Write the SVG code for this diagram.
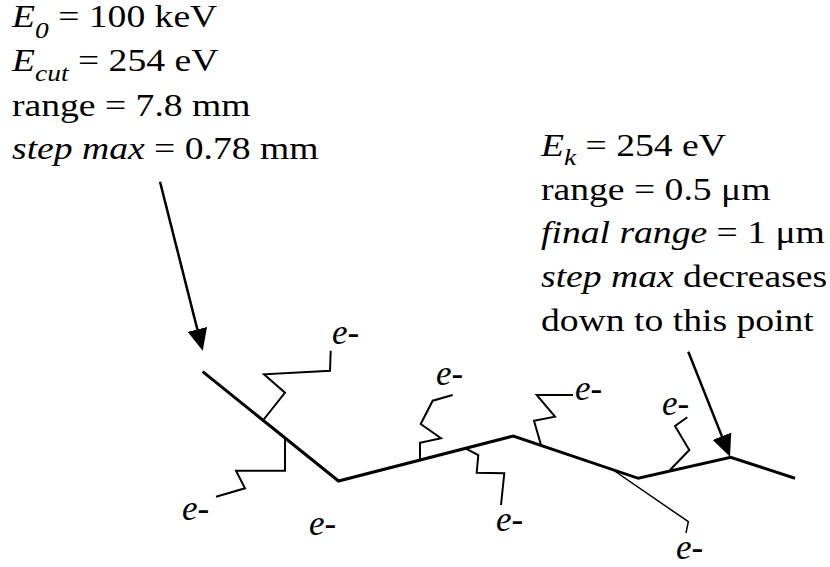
<svg xmlns="http://www.w3.org/2000/svg" width="830" height="567" viewBox="0 0 830 567">
<style>
.t{font-family:"Liberation Serif","Times New Roman",serif;font-size:31.5px;fill:#000}
.i{font-style:italic}
.sub{font-style:italic;font-size:23px}
.lab{font-family:"Liberation Serif","Times New Roman",serif;font-size:35px;fill:#000}
.track{fill:none;stroke:#000;stroke-width:3;stroke-linejoin:miter}
.sec{fill:none;stroke:#000;stroke-width:2;stroke-linejoin:miter}
.arr{fill:none;stroke:#000;stroke-width:2.5;marker-end:url(#ah)}
</style>
<defs>
<marker id="ah" markerUnits="userSpaceOnUse" viewBox="0 0 22 20" markerWidth="22" markerHeight="20" refX="10" refY="10" orient="auto">
<path d="M0,0 L22,10 L0,20 Z" fill="#000"/>
</marker>
</defs>
<rect width="830" height="567" fill="#fff"/>
<g id="text-initial" transform="translate(12,0) scale(1.195,1)">
<text class="t" x="0" y="27"><tspan class="i">E</tspan><tspan class="sub" dy="11">0</tspan><tspan dy="-11"> = 100 keV</tspan></text>
<text class="t" x="0" y="71.5"><tspan class="i">E</tspan><tspan class="sub" dy="10">cut</tspan><tspan dy="-10"> = 254 eV</tspan></text>
<text class="t" x="0" y="116">range = 7.8 mm</text>
<text class="t" x="0" y="159.5"><tspan class="i">step max</tspan> = 0.78 mm</text>
</g>
<g id="text-final" transform="translate(541,0) scale(1.195,1)">
<text class="t" x="0" y="156"><tspan class="i">E</tspan><tspan class="sub" dy="9">k</tspan><tspan dy="-9"> = 254 eV</tspan></text>
<text class="t" x="0" y="200">range = 0.5 μm</text>
<text class="t" x="0" y="243.5"><tspan class="i">final range</tspan> = 1 μm</text>
<text class="t" x="0" y="287.5"><tspan class="i">step max</tspan> decreases</text>
<text class="t" x="0" y="331.5">down to this point</text>
</g>
<g id="connectors">
<polyline id="primary-track" class="track" points="202.7,371.7 338.5,481 513.3,436 638.3,478.3 730.7,457.3 795,478.3"/>
<line class="arr" x1="160" y1="181.7" x2="199.8" y2="339.1"/>
<line class="arr" x1="688.3" y1="351.7" x2="725.6" y2="445.6"/>
<polyline class="sec" points="263.3,420 285,392.7 264,374.3 330,370.7 330.7,350.7"/>
<polyline class="sec" points="285,438 285,470.7 236,470.7 245,488.3 216,496.7"/>
<polyline class="sec" points="420,459.3 420,442.7 441,438.3 420.7,424 432.7,400.7 452.7,395"/>
<polyline class="sec" points="464,447.7 478.3,455 476.7,472.7 504.3,473.3 501,505"/>
<polyline class="sec" points="541,445 534,420.7 555,416.7 536.7,395 573,395"/>
<polyline class="sec" style="stroke-width:1.5" points="611,468.5 688.3,521.7 686,533"/>
<polyline class="sec" points="670,470 689.3,450 675,426 687.3,417.3"/>
</g>
<g id="labels">
<text class="lab" x="332" y="344"><tspan class="i">e</tspan>-</text>
<text class="lab" x="182" y="520"><tspan class="i">e</tspan>-</text>
<text class="lab" x="309" y="535"><tspan class="i">e</tspan>-</text>
<text class="lab" x="436" y="385"><tspan class="i">e</tspan>-</text>
<text class="lab" x="496" y="531"><tspan class="i">e</tspan>-</text>
<text class="lab" x="575" y="400"><tspan class="i">e</tspan>-</text>
<text class="lab" x="662" y="415"><tspan class="i">e</tspan>-</text>
<text class="lab" x="676" y="559"><tspan class="i">e</tspan>-</text>
</g>
</svg>
